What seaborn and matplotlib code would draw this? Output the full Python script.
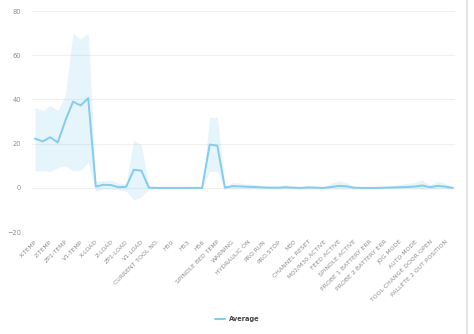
import numpy as np
import matplotlib
matplotlib.use("Agg")
import matplotlib.pyplot as plt
from matplotlib.lines import Line2D
import seaborn as sns

# tick labels (shown on every other point)
labels = ["X-TEMP", "Z-TEMP", "ZP1-TEMP", "V1-TEMP", "X-LOAD", "Z-LOAD",
          "ZP1-LOAD", "V1-LOAD", "CURRENT TOOL NO.", "H50", "H53", "H56",
          "SPINDLE BED TEMP", "WARNING", "HYDRAULIC ON", "PRO.RUN", "PRO.STOP",
          "M30", "CHANNEL RESET", "M02/M30 ACTIVE", "FEED ACTIVE",
          "SPINDLE ACTIVE", "PROBE 1 BATTERY ERR", "PROBE 2 BATTERY ERR",
          "JOG MODE", "AUTO MODE", "TOOL CHANGE DOOR OPEN",
          "PALLETE 2 OUT POSITION"]

avg = [22.3, 21.0, 22.9, 20.6, 30.5, 39.0, 37.3, 40.6,
       0.6, 1.4, 1.3, 0.3, 0.5, 8.2, 7.8, 0.1,
       0.0, 0.0, 0.0, 0.0, 0.0, 0.0, 0.0, 19.6,
       19.1, 0.1, 0.8, 0.7, 0.5, 0.4, 0.2, 0.1,
       0.1, 0.3, 0.1, 0.0, 0.2, 0.1, 0.0, 0.4,
       0.9, 0.7, 0.1, 0.0, 0.0, 0.0, 0.1, 0.2,
       0.3, 0.4, 0.6, 1.1, 0.3, 0.9, 0.6, 0.0]

upper = [36.4, 35.0, 37.3, 35.0, 42.0, 70.0, 67.3, 70.0,
         3.0, 3.2, 3.5, 2.0, 2.0, 21.5, 19.5, 0.6,
         0.2, 0.2, 0.2, 0.2, 0.2, 0.2, 0.2, 32.0,
         32.0, 0.8, 2.5, 2.2, 1.8, 1.5, 1.0, 0.8,
         0.8, 1.5, 0.8, 0.5, 1.2, 0.8, 0.5, 2.0,
         3.0, 2.5, 0.8, 0.5, 0.5, 0.5, 0.8, 1.0,
         1.5, 2.0, 2.5, 3.5, 1.5, 3.0, 2.0, 0.5]

lower = [7.7, 7.7, 7.5, 9.2, 10.0, 7.7, 8.0, 11.5,
         -1.5, -0.5, -0.5, -1.0, -1.5, -5.5, -4.0, -0.5,
         -0.2, -0.2, -0.2, -0.2, -0.2, -0.2, -0.2, 7.5,
         7.5, -0.5, -0.5, -0.5, -0.5, -0.5, -0.5, -0.5,
         -0.5, -0.5, -0.5, -0.5, -0.5, -0.5, -0.5, -0.5,
         -0.5, -0.5, -0.5, -0.5, -0.5, -0.5, -0.5, -0.5,
         -0.5, -0.5, -0.5, -0.5, -0.5, -0.5, -0.5, -0.5]

line_c = "#84cbef"
grey = "#8e8e8e"

sns.set_theme(style="white")
plt.rcParams["font.family"] = ["DejaVu Sans"]

fig = plt.figure(figsize=(4.74, 3.34), dpi=100)
ax = fig.add_axes([0.0675, 0.305, 0.8925, 0.662])

x = np.arange(len(avg))
ax.fill_between(x, lower, upper, color=line_c, alpha=0.2, linewidth=0)
sns.lineplot(x=x, y=avg, ax=ax, color=line_c, linewidth=1.4, label="Average")

ax.set_xlim(-0.4, 55.3)
ax.set_ylim(-20, 80)
ax.set_yticks([-20, 0, 20, 40, 60, 80])
ax.set_xticks(x[::2])
ax.set_xticklabels(labels, rotation=45, ha="right", va="top",
                   rotation_mode="anchor", fontsize=4.4, color=grey)
ax.tick_params(axis="y", labelsize=4.8, labelcolor=grey, length=0, pad=8)
ax.tick_params(axis="x", length=0, pad=5)
ax.grid(axis="y", color="#f0f0f0", linewidth=0.8)
ax.set_axisbelow(True)
for s in ax.spines.values():
    s.set_visible(False)
ax.set_xlabel("")
ax.set_ylabel("")

ax.get_legend().remove()
leg = fig.legend(handles=[Line2D([], [], color=line_c, linewidth=1.4)],
                 labels=["Average"], loc="center", bbox_to_anchor=(0.5, 0.045),
                 frameon=False, handlelength=1.6, handletextpad=0.5,
                 prop={"size": 4.8, "weight": "bold"})
for t in leg.get_texts():
    t.set_color("#444444")

# container edge on the right of the screenshot
fig.add_artist(Line2D([467 / 474, 467 / 474], [0, 1], color="#e3e3e3",
                      linewidth=1.5, transform=fig.transFigure))

fig.savefig("out.png", dpi=100)
